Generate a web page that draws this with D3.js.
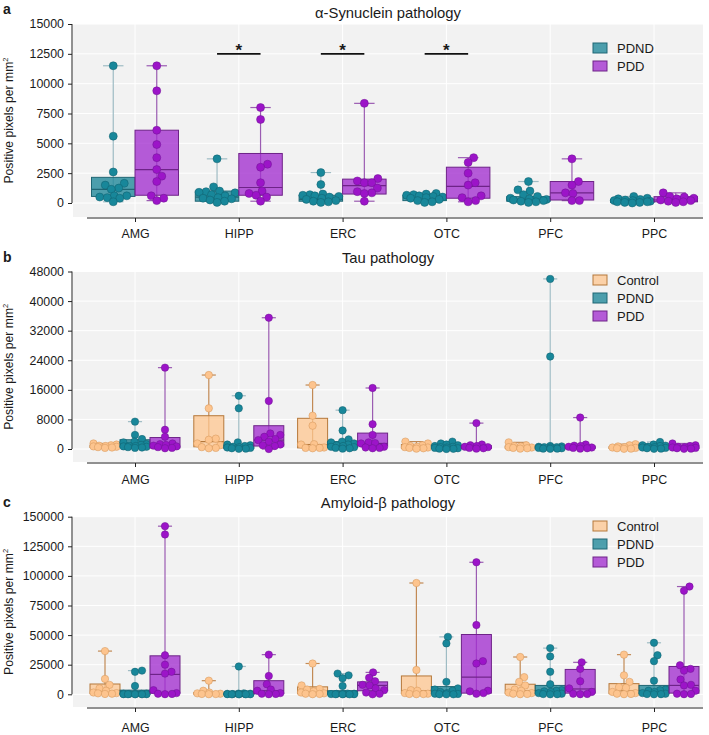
<!DOCTYPE html>
<html><head><meta charset="utf-8">
<script src="https://cdn.jsdelivr.net/npm/d3@7"></script>
<style>body{margin:0;background:#fff;} text{font-family:Arial,"Liberation Sans",sans-serif;fill:#1a1a1a;}</style>
</head><body><svg id="c" width="709" height="735"></svg>
<script>
const categories = ["AMG","HIPP","ERC","OTC","PFC","PPC"];

// Panel a: alpha-synuclein
const synTicks = [0,2500,5000,7500,10000,12500,15000];
const synPDND = [
 [11500,5600,2600,1650,1500,1250,1150,600,600,500,450,400,100],
 [3700,1350,1000,950,900,850,700,600,450,400,350,250,150,50],
 [2550,1550,750,700,650,600,550,500,400,300,200,150,100,50],
 [800,750,700,650,600,550,500,450,400,300,200,100,50],
 [1800,1100,1000,700,550,400,350,300,250,200,150,100,50],
 [550,400,350,300,250,200,200,150,100,100,50,50,0]
];
const synPDNDBox = [[550,1150,2150],[150,500,1000],[150,300,650],[200,450,650],[150,300,530],[50,150,300]];
const synPDD = [
 [11500,9400,6100,4900,3800,2800,2250,1800,600,400,200],
 [8000,7000,3250,3000,1700,1000,800,650,500,150],
 [8350,2050,1850,1700,1700,1250,950,850,800,150],
 [3800,3400,2500,1700,1500,600,450,200,100],
 [3700,1800,1500,850,800,200,200],
 [850,550,500,400,350,250,200,150,100,50]
];
const synPDDBox = [[650,2800,6100],[650,1300,4150],[750,1450,2000],[400,1400,3000],[250,850,1800],[100,250,530]];
const synSig = ["HIPP","ERC","OTC"];
const synSigValue = 12500;

// Panel b: tau
const tauTicks = [0,8000,16000,24000,32000,40000,48000];
const tauControl = [
 [1500,1200,1000,900,800,700,600,500,400,300],
 [20000,11000,2800,2500,1500,1000,500,300,200],
 [17300,9000,6300,1300,1200,400,300,300,200],
 [2000,1500,1000,800,600,500,400,300,200,100],
 [1800,1000,800,700,500,400,300,200,100],
 [1300,1000,700,500,400,300,200,100,50]
];
const tauControlBox = [[400,650,1000],[600,2000,9000],[300,1200,8300],[200,500,1200],[200,400,800],[150,300,600]];
const tauPDND = [
 [7400,3800,2700,2000,1800,1300,1100,900,800,700,600,500,400,300],
 [14400,11000,1800,1200,1000,800,600,500,400,300,200,100,50],
 [10500,5000,2600,2000,1800,1500,1200,1000,800,600,500,300,200,100],
 [2000,1500,1200,1000,800,600,500,400,300,200,100,50,0],
 [46000,25000,800,700,600,500,500,400,300,200,100,100,50],
 [1900,1200,1000,900,800,600,500,400,300,200,100,50]
];
const tauPDNDBox = [[500,900,2500],[100,400,1000],[400,1000,2000],[200,500,900],[150,400,600],[200,600,1300]];
const tauPDD = [
 [22000,5200,3300,1500,1300,1100,900,700,500,300,200],
 [35500,13000,4200,3800,3300,2700,2400,2000,1200,1000,800,0],
 [16500,6700,3800,1800,1600,1500,600,400,300,200],
 [7000,1200,1000,800,600,500,300,200,100],
 [8500,1200,900,800,600,400,300,200,100],
 [1500,1000,800,600,500,400,300,200,100,50]
];
const tauPDDBox = [[300,900,3100],[800,2400,6300],[900,1500,4300],[150,400,900],[150,400,800],[150,400,800]];

// Panel c: amyloid-beta
const abTicks = [0,25000,50000,75000,100000,125000,150000];
const abControl = [
 [36500,13000,8000,5000,3000,1500,1000,800,500,300],
 [11500,3000,1500,800,500,300,200,100],
 [26000,7500,4500,4000,2500,1500,800,500,300,100],
 [94000,20500,3500,3000,1000,500,300,200,100],
 [31500,14500,10500,7500,4000,3000,1500,1000,500,300,100],
 [33500,16000,10500,6000,5500,2000,1000,500,300,100]
];
const abControlBox = [[500,2500,8700],[100,400,1500],[500,2500,6300],[500,3000,15500],[500,3000,8500],[500,3000,9000]];
const abPDND = [
 [20000,19000,7000,600,500,400,300,200,100,100,50,0,0],
 [23500,800,600,500,400,300,200,150,100,50,0,0,0],
 [17500,16000,13500,7000,600,500,400,300,200,100,50,0,0],
 [48500,43000,10500,5000,4000,3000,2000,1000,500,300,100,0,0],
 [39000,32000,19000,8500,3500,3000,2500,2000,1000,500,200,100,0],
 [43500,33000,28000,11500,4000,3500,3000,2000,1000,500,200,100,0]
];
const abPDNDBox = [[100,500,3500],[50,200,500],[50,200,3000],[500,2500,6500],[500,3000,7500],[500,3000,7500]];
const abPDD = [
 [142000,135000,33000,25000,19000,17500,3500,1000,500,300,100],
 [33500,15500,8500,4000,3000,1000,500,300,100],
 [18500,14000,11000,8000,7500,5000,3500,1500,500,0],
 [111500,58500,28000,26000,3000,2500,1000,500],
 [27000,21500,11000,5000,2000,500,300,100],
 [91000,87500,24500,21500,20000,12500,8000,7500,3000,500,300,100]
];
const abPDDBox = [[1000,16800,32500],[500,3000,11500],[3000,7500,10500],[1000,14500,50500],[1000,4500,21000],[1000,7500,23500]];

const style = {
  Control:{pt:"#fdc48e", ptStroke:"#d39458", box:"#fdc58f", boxOp:0.75, boxStroke:"#b5783a", whisk:"#c28a55"},
  PDND:{pt:"#18879a", ptStroke:"#115f6c", box:"#1e8799", boxOp:0.78, boxStroke:"#1f6674", whisk:"#9fbcc4"},
  PDD:{pt:"#9c14c8", ptStroke:"#6f1592", box:"#a32fcf", boxOp:0.78, boxStroke:"#6e2388", whisk:"#9b5cb2"}
};

const panels = [
  {letter:"a", title:"α-Synuclein pathology", ticks:synTicks, groups:["PDND","PDD"],
   pts:[synPDND,synPDD], boxes:[synPDNDBox,synPDDBox], top:24, zero:203, bgBottom:217,
   titleY:18, letterY:14, labelY:238, legendY:48, boxW:43.5, r:4, sig:true},
  {letter:"b", title:"Tau pathology", ticks:tauTicks, groups:["Control","PDND","PDD"],
   pts:[tauControl,tauPDND,tauPDD], boxes:[tauControlBox,tauPDNDBox,tauPDDBox], top:271.5, zero:449, bgBottom:462,
   titleY:263, letterY:262, labelY:484, legendY:280, boxW:30, r:3.7},
  {letter:"c", title:"Amyloid-β pathology", ticks:abTicks, groups:["Control","PDND","PDD"],
   pts:[abControl,abPDND,abPDD], boxes:[abControlBox,abPDNDBox,abPDDBox], top:516.7, zero:694.3, bgBottom:707,
   titleY:508, letterY:507, labelY:732, legendY:526, boxW:30, r:3.7}
];

const svg = d3.select("#c");
const left = 73, right = 703;
const x = d3.scalePoint().domain(categories).range([135, 654]);

function swarm(ys, r, maxOff){
  const idx = d3.range(ys.length).sort((a,b)=>ys[b]-ys[a]);
  const placed = [], out = new Array(ys.length), d = 2*r*0.9;
  const cands = [0];
  for (let s=0.5; s<=maxOff+1e-9; s+=0.5) cands.push(s,-s);
  for (const i of idx){
    const y = ys[i]; let best = 0, bestScore = Infinity;
    for (const dx of cands){
      let ov = 0;
      for (const p of placed){ const dist = Math.hypot(p.x-dx, p.y-y); if (dist<d) ov += d-dist; }
      if (ov === 0){ best = dx; bestScore = 0; break; }
      if (ov < bestScore - 1e-9){ bestScore = ov; best = dx; }
    }
    placed.push({x:best, y}); out[i] = best;
  }
  return out;
}

panels.forEach(P => {
  const y = d3.scaleLinear().domain([0, d3.max(P.ticks)]).range([P.zero, P.top]);
  const g = svg.append("g");
  g.append("rect").attr("x", left).attr("y", P.top).attr("width", right-left).attr("height", P.bgBottom-P.top).attr("fill","#f2f2f2");
  g.selectAll(".hg").data(P.ticks).join("line").attr("x1",left).attr("x2",right)
    .attr("y1",d=>y(d)).attr("y2",d=>y(d)).attr("stroke","#fff").attr("stroke-width",1);
  g.selectAll(".vg").data(categories).join("line").attr("x1",d=>x(d)).attr("x2",d=>x(d))
    .attr("y1",P.top).attr("y2",P.bgBottom).attr("stroke","#fff").attr("stroke-width",1);
  const ya = d3.axisLeft(y).tickValues(P.ticks).tickSize(4).tickPadding(4).tickFormat(d3.format("d"));
  const yg = g.append("g").attr("transform",`translate(${left-1},0)`).call(ya);
  yg.select(".domain").attr("d", `M0,${y(d3.max(P.ticks))}V${P.zero}`).attr("stroke","#222");
  yg.selectAll(".tick line").attr("stroke","#222");
  yg.selectAll("text").attr("font-size","12.4px").attr("fill","#1a1a1a");
  const xa = d3.axisBottom(x).tickSize(4).tickPadding(0);
  const xg = g.append("g").attr("transform",`translate(0,${P.bgBottom+1})`).call(xa);
  xg.select(".domain").attr("d", `M87,0H${right}`).attr("stroke","#222");
  xg.selectAll(".tick line").attr("stroke","#222");
  xg.selectAll("text").attr("font-size","12.4px").attr("fill","#1a1a1a").attr("dy",null)
    .attr("y", P.labelY - (P.bgBottom+1));
  g.append("text").attr("x",(left+right)/2).attr("y",P.titleY).attr("text-anchor","middle").attr("font-size","14.8px").text(P.title);
  g.append("text").attr("x",3).attr("y",P.letterY).attr("font-size","14px").attr("font-weight","bold").text(P.letter);
  const yl = g.append("text").attr("transform",`translate(13,${(P.top+P.bgBottom)/2}) rotate(-90)`)
    .attr("text-anchor","middle").attr("font-size","12.2px");
  yl.append("tspan").text("Positive pixels per mm");
  yl.append("tspan").attr("dy","-5").attr("font-size","7.5px").text("2");

  const n = P.groups.length;
  P.groups.forEach((grp, gi) => {
    const st = style[grp];
    const off = (gi - (n-1)/2) * P.boxW;
    const capW = P.boxW*0.47;
    categories.forEach((cat, ci) => {
      const vals = P.pts[gi][ci];
      const [q1, med, q3] = P.boxes[gi][ci];
      const cx = x(cat) + off;
      const mn = d3.min(vals), mx = d3.max(vals);
      const gg = g.append("g");
      gg.append("line").attr("x1",cx).attr("x2",cx).attr("y1",y(mn)).attr("y2",y(mx)).attr("stroke",st.whisk).attr("stroke-width",1.2);
      [mn,mx].forEach(v => gg.append("line").attr("x1",cx-capW/2).attr("x2",cx+capW/2).attr("y1",y(v)).attr("y2",y(v))
        .attr("stroke",st.whisk).attr("stroke-width",1.2));
      gg.append("rect").attr("x",cx-P.boxW/2).attr("width",P.boxW).attr("y",y(q3)).attr("height",Math.max(0.5,y(q1)-y(q3)))
        .attr("fill",st.box).attr("fill-opacity",st.boxOp).attr("stroke",st.boxStroke).attr("stroke-width",1);
      gg.append("line").attr("x1",cx-P.boxW/2).attr("x2",cx+P.boxW/2).attr("y1",y(med)).attr("y2",y(med)).attr("stroke",st.boxStroke).attr("stroke-width",1.2);
      const ys = vals.map(v => y(v));
      const dx = swarm(ys, P.r, P.boxW/2 - P.r + 0.5);
      gg.selectAll("circle").data(vals).join("circle").attr("cx",(d,i)=>cx+dx[i]).attr("cy",d=>y(d)).attr("r",P.r)
        .attr("fill",st.pt).attr("stroke",st.ptStroke).attr("stroke-width",0.5);
    });
    const ly = P.legendY + gi*18;
    g.append("rect").attr("x",593).attr("y",ly-5).attr("width",14).attr("height",10)
      .attr("fill",st.box).attr("fill-opacity",st.boxOp).attr("stroke",st.boxStroke).attr("stroke-width",1);
    g.append("text").attr("x",617).attr("y",ly+4.5).attr("font-size","13px").text(grp);
  });

  if (P.sig){
    const ys = y(synSigValue);
    synSig.forEach(cat => {
      const x1 = x(cat) - P.boxW/2, x2 = x(cat) + P.boxW/2;
      g.append("line").attr("x1",x1).attr("x2",x2).attr("y1",ys).attr("y2",ys).attr("stroke","#111").attr("stroke-width",1.6);
      g.append("text").attr("x",(x1+x2)/2).attr("y",ys+2).attr("text-anchor","middle").attr("font-size","17px").attr("font-weight","bold").text("*");
    });
  }
});
</script></body></html>
